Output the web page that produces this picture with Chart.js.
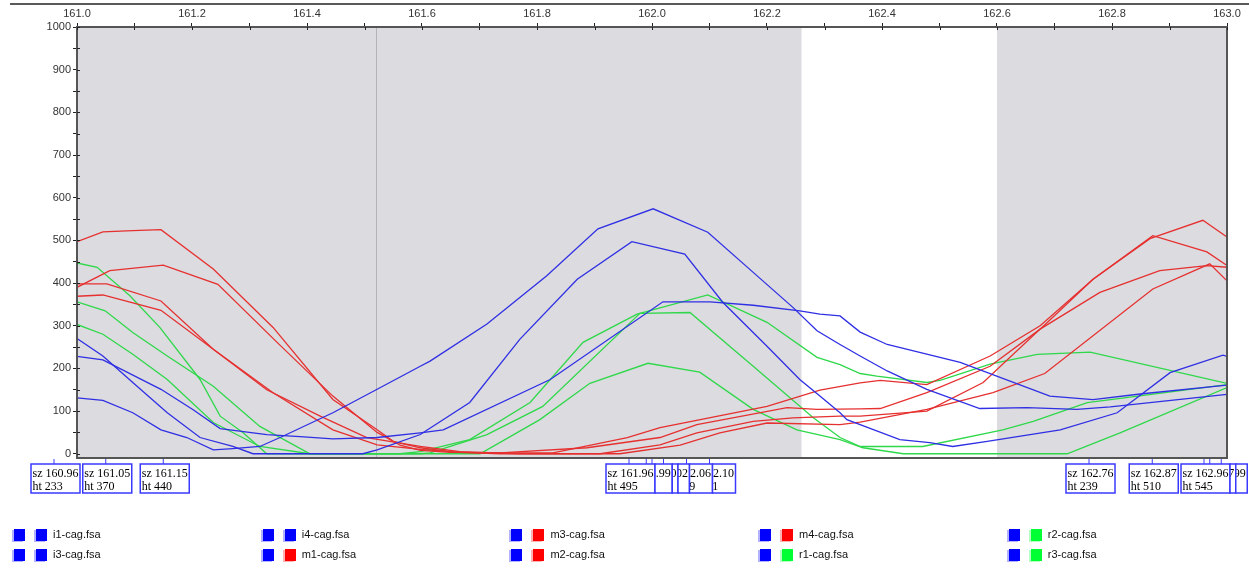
<!DOCTYPE html>
<html>
<head>
<meta charset="utf-8">
<script src="https://cdn.jsdelivr.net/npm/chart.js@4.4.1/dist/chart.umd.min.js"></script>
<style>
  body { margin: 0; background: #fff; }
  #wrap { position: relative; width: 1249px; height: 569px; }
  #legend { position: absolute; left: 0; top: 0; width: 1249px; height: 569px; pointer-events: none; }
  .item { position: absolute; height: 13px; font: 11px "Liberation Sans", Arial, sans-serif; color: #111; }
  .sq { position: absolute; top: 0; width: 11px; height: 12px; }
  .lbl { position: absolute; left: 39px; top: -1px; white-space: nowrap; }
</style>
</head>
<body>
<div id="wrap">
  <canvas id="myChart" width="1249" height="569"></canvas>
  <div id="legend"></div>
</div>
<script>
// size axis range and shaded bins
const xMin = 161.0
const xMax = 163.0
const binRanges = [[161.0, 162.26], [162.6, 163.0]]
const markerX = [161.52]

// traces (size, height)
const i1X = [161.000, 161.045, 161.097, 161.146, 161.191, 161.237, 161.271, 161.318, 161.358, 161.445, 161.522, 161.597, 161.614, 161.713, 161.817, 161.906, 162.002, 162.097, 162.176, 162.245, 162.287, 162.327, 162.362, 162.409, 162.478, 162.570, 162.652, 162.739, 162.797, 163.000]
const i1Y = [131, 125, 96, 56, 38, 9, 12, 17, 41, 96, 151, 205, 217, 304, 417, 527, 574, 519, 425, 343, 288, 256, 229, 194, 151, 106, 108, 104, 110, 139]

const i3X = [161.000, 161.045, 161.097, 161.157, 161.214, 161.271, 161.306, 161.497, 161.522, 161.597, 161.683, 161.770, 161.870, 161.965, 162.057, 162.123, 162.200, 162.257, 162.292, 162.327, 162.339, 162.431, 162.483, 162.523, 162.583, 162.710, 162.809, 162.901, 162.993, 163.000]
const i3Y = [270, 229, 167, 96, 38, 17, 0, 0, 9, 45, 120, 268, 409, 497, 468, 355, 252, 174, 135, 96, 80, 33, 26, 17, 29, 56, 96, 190, 231, 228]

const i4X = [161.000, 161.045, 161.146, 161.202, 161.249, 161.330, 161.388, 161.445, 161.522, 161.597, 161.637, 161.823, 162.019, 162.101, 162.176, 162.257, 162.292, 162.327, 162.362, 162.409, 162.536, 162.692, 162.767, 162.849, 163.000]
const i4Y = [228, 220, 151, 103, 59, 45, 40, 35, 38, 49, 56, 174, 356, 356, 348, 335, 327, 323, 285, 256, 214, 135, 127, 140, 161]

const m1X = [161.000, 161.045, 161.097, 161.146, 161.237, 161.341, 161.445, 161.522, 161.550, 161.597, 161.649, 161.701, 161.828, 161.957, 162.014, 162.200, 162.292, 162.362, 162.397, 162.478, 162.588, 162.675, 162.767, 162.871, 162.965, 163.000]
const m1Y = [497, 520, 523, 525, 433, 296, 127, 56, 29, 14, 5, 2, 2, 38, 61, 111, 149, 166, 172, 162, 229, 300, 409, 511, 473, 441]

const m2X = [161.000, 161.057, 161.150, 161.245, 161.348, 161.445, 161.522, 161.562, 161.597, 161.649, 161.736, 161.887, 162.014, 162.078, 162.235, 162.287, 162.362, 162.397, 162.478, 162.588, 162.675, 162.767, 162.866, 162.958, 163.000]
const m2Y = [390, 429, 442, 397, 261, 135, 50, 20, 8, 3, 2, 14, 38, 68, 108, 104, 105, 106, 143, 205, 292, 409, 504, 547, 508]

const m3X = [161.000, 161.052, 161.146, 161.237, 161.341, 161.445, 161.522, 161.597, 161.666, 161.736, 161.910, 162.014, 162.078, 162.176, 162.245, 162.327, 162.362, 162.478, 162.576, 162.675, 162.779, 162.883, 162.965, 163.000]
const m3Y = [398, 398, 358, 245, 143, 56, 21, 10, 3, 0, 0, 21, 49, 76, 84, 88, 88, 100, 167, 292, 378, 429, 441, 437]

const m4X = [161.000, 161.045, 161.146, 161.237, 161.330, 161.423, 161.504, 161.597, 161.666, 161.770, 161.944, 162.049, 162.118, 162.200, 162.327, 162.362, 162.478, 162.593, 162.683, 162.871, 162.970, 163.000]
const m4Y = [369, 372, 336, 245, 150, 88, 38, 17, 5, 0, 0, 20, 49, 72, 68, 74, 104, 143, 188, 386, 445, 405]

const r1X = [161.000, 161.035, 161.092, 161.144, 161.214, 161.249, 161.289, 161.330, 161.562, 161.597, 161.683, 161.788, 161.880, 161.974, 162.097, 162.200, 162.287, 162.327, 162.362, 162.391, 162.478, 162.501, 162.588, 162.670, 162.762, 163.000]
const r1Y = [447, 437, 370, 296, 174, 88, 49, 0, 0, 5, 33, 120, 261, 327, 372, 308, 226, 209, 188, 182, 167, 172, 210, 233, 238, 165]

const r2X = [161.000, 161.049, 161.097, 161.157, 161.237, 161.318, 161.405, 161.597, 161.614, 161.713, 161.810, 161.979, 162.066, 162.176, 162.280, 162.327, 162.362, 162.471, 162.610, 162.663, 162.757, 163.000]
const r2Y = [356, 335, 284, 229, 158, 64, 0, 0, 2, 45, 111, 329, 331, 205, 85, 38, 17, 17, 56, 76, 120, 162]

const r3X = [161.000, 161.045, 161.097, 161.157, 161.237, 161.318, 161.405, 161.701, 161.805, 161.892, 161.993, 162.083, 162.176, 162.252, 162.327, 162.367, 162.437, 162.722, 162.814, 163.000]
const r3Y = [303, 280, 233, 174, 73, 17, 0, 0, 80, 165, 212, 191, 104, 56, 33, 14, 0, 0, 49, 155]

// peak call boxes under the plot
const peakSizes = [160.96, 161.05, 161.15, 161.96, 161.99, 162.00, 162.02, 162.06, 162.10, 162.76, 162.87, 162.96, 162.97, 162.99]
const peakHeights = [233, 370, 440, 495, 212, 572, 355, 329, 371, 239, 510, 545, 445, 231]

// legend, column by column
const legendNames = ['i1-cag.fsa', 'i3-cag.fsa', 'i4-cag.fsa', 'm1-cag.fsa', 'm3-cag.fsa', 'm2-cag.fsa', 'm4-cag.fsa', 'r1-cag.fsa', 'r2-cag.fsa', 'r3-cag.fsa']
const legendKinds = ['i', 'i', 'i', 'm', 'm', 'm', 'm', 'r', 'r', 'r']

const lineColors = { i: '#2f2fe4', m: '#e63030', r: '#2fd84a' }
const swatchColors = { i: '#0000ff', m: '#ff0000', r: '#00ff33' }
const swatchShadow = { i: 'rgba(0,0,255,0.3)', m: 'rgba(255,0,0,0.3)', r: 'rgba(0,255,50,0.3)' }

function toPoints (xs, ys) {
  return xs.map((x, k) => ({ x: x, y: ys[k] }))
}

const traces = [
  { kind: 'i', xs: i1X, ys: i1Y },
  { kind: 'i', xs: i3X, ys: i3Y },
  { kind: 'i', xs: i4X, ys: i4Y },
  { kind: 'm', xs: m1X, ys: m1Y },
  { kind: 'm', xs: m2X, ys: m2Y },
  { kind: 'm', xs: m3X, ys: m3Y },
  { kind: 'm', xs: m4X, ys: m4Y },
  { kind: 'r', xs: r1X, ys: r1Y },
  { kind: 'r', xs: r2X, ys: r2Y },
  { kind: 'r', xs: r3X, ys: r3Y }
]

const datasets = traces.map(t => ({
  data: toPoints(t.xs, t.ys),
  showLine: true,
  borderColor: lineColors[t.kind],
  borderWidth: 1.3,
  pointRadius: 0,
  tension: 0
}))

const backdrop = {
  id: 'backdrop',
  beforeDraw (chart) {
    const { ctx, chartArea: a, scales: { x } } = chart
    ctx.save()
    ctx.fillStyle = '#dcdbdf'
    binRanges.forEach(r => {
      const l = x.getPixelForValue(r[0])
      const rr = x.getPixelForValue(r[1])
      ctx.fillRect(l, a.top, rr - l, a.bottom - a.top)
    })
    ctx.strokeStyle = '#b4b4b8'
    ctx.lineWidth = 1
    markerX.forEach(v => {
      const px = Math.round(x.getPixelForValue(v)) + 0.5
      ctx.beginPath()
      ctx.moveTo(px, a.top)
      ctx.lineTo(px, a.bottom)
      ctx.stroke()
    })
    ctx.restore()
  },
  afterDraw (chart) {
    const { ctx, chartArea: a, scales: { x, y } } = chart
    ctx.save()
    // frame
    ctx.strokeStyle = '#555'
    ctx.lineWidth = 2
    ctx.strokeRect(a.left, a.top, a.right - a.left, a.bottom - a.top)
    // tick marks reaching into the plot
    ctx.strokeStyle = '#222'
    ctx.lineWidth = 1
    x.ticks.forEach(t => {
      const px = Math.round(x.getPixelForValue(t.value)) + 0.5
      ctx.beginPath()
      ctx.moveTo(px, a.top)
      ctx.lineTo(px, a.top + 3)
      ctx.stroke()
    })
    y.ticks.forEach(t => {
      const py = Math.round(y.getPixelForValue(t.value)) + 0.5
      ctx.beginPath()
      ctx.moveTo(a.left, py)
      ctx.lineTo(a.left + 3, py)
      ctx.stroke()
    })
    // window line on top
    ctx.strokeStyle = '#222'
    ctx.lineWidth = 1.5
    ctx.beginPath()
    ctx.moveTo(10, 4)
    ctx.lineTo(1249, 4)
    ctx.stroke()

    // peak boxes
    const top = 464
    const h = 29
    let prevRight = -1000
    ctx.font = '12px "Liberation Serif", "Times New Roman", serif'
    ctx.textBaseline = 'alphabetic'
    peakSizes.forEach((s, k) => {
      const px = x.getPixelForValue(s)
      const nomLeft = px - 23
      const right = px + 26
      const left = Math.max(nomLeft, prevRight)
      ctx.strokeStyle = '#3a3aff'
      ctx.lineWidth = 1
      ctx.beginPath()
      ctx.moveTo(px, a.bottom + 1)
      ctx.lineTo(px, top)
      ctx.stroke()
      ctx.fillStyle = '#fff'
      ctx.fillRect(left, top, right - left, h)
      ctx.save()
      ctx.beginPath()
      ctx.rect(left, top, right - left, h)
      ctx.clip()
      ctx.fillStyle = '#000'
      ctx.fillText('sz ' + s.toFixed(2), nomLeft + 1.5, top + 13)
      ctx.fillText('ht ' + peakHeights[k], nomLeft + 1.5, top + 26)
      ctx.restore()
      ctx.lineWidth = 1.5
      ctx.strokeRect(left, top, right - left, h)
      prevRight = right
    })
    ctx.restore()
  }
}

const ctx = document.querySelector('#myChart')
const myChart = new Chart(ctx, {
  type: 'scatter',
  data: { datasets: datasets },
  options: {
    responsive: false,
    animation: false,
    devicePixelRatio: 1,
    layout: { padding: { left: 0, top: 0, right: 22, bottom: 111 } },
    plugins: { legend: { display: false }, tooltip: { enabled: false } },
    scales: {
      x: {
        type: 'linear',
        position: 'top',
        min: xMin,
        max: xMax,
        afterBuildTicks (scale) {
          const t = []
          for (let k = 0; k <= 20; k++) t.push({ value: +(xMin + k * 0.1).toFixed(1) })
          scale.ticks = t
        },
        afterFit (scale) { scale.height = 27 },
        ticks: {
          autoSkip: false,
          maxRotation: 0,
          padding: 2,
          color: '#333',
          font: { family: '"Liberation Sans", Arial, sans-serif', size: 11 },
          callback: v => (Math.round(v * 10) % 2 === 0 ? v.toFixed(1) : '')
        },
        grid: { drawOnChartArea: false, tickLength: 4, color: '#222' },
        border: { color: '#555', width: 2 }
      },
      y: {
        min: -10,
        max: 1000,
        afterBuildTicks (scale) {
          const t = []
          for (let v = 0; v <= 1000; v += 50) t.push({ value: v })
          scale.ticks = t
        },
        afterFit (scale) { scale.width = 77 },
        ticks: {
          autoSkip: false,
          padding: 2,
          color: '#333',
          font: { family: '"Liberation Sans", Arial, sans-serif', size: 11 },
          callback: v => (v % 100 === 0 ? String(v) : '')
        },
        grid: { drawOnChartArea: false, tickLength: 4, color: '#222' },
        border: { color: '#555', width: 2 }
      }
    }
  },
  plugins: [backdrop]
})

// legend as html
const legend = document.querySelector('#legend')
legendNames.forEach((name, k) => {
  const col = Math.floor(k / 2)
  const row = k % 2
  const kind = legendKinds[k]
  const item = document.createElement('div')
  item.className = 'item'
  item.style.left = (14 + col * 248.7) + 'px'
  item.style.top = (529 + row * 20) + 'px'
  const a = document.createElement('div')
  a.className = 'sq'
  a.style.left = '0px'
  a.style.background = swatchColors.i
  a.style.boxShadow = '-2px 1px 0 ' + swatchShadow.i
  const b = document.createElement('div')
  b.className = 'sq'
  b.style.left = '22px'
  b.style.background = swatchColors[kind]
  b.style.boxShadow = '-2px 1px 0 ' + swatchShadow[kind]
  const t = document.createElement('span')
  t.className = 'lbl'
  t.textContent = name
  item.append(a, b, t)
  legend.append(item)
})
</script>
</body>
</html>
